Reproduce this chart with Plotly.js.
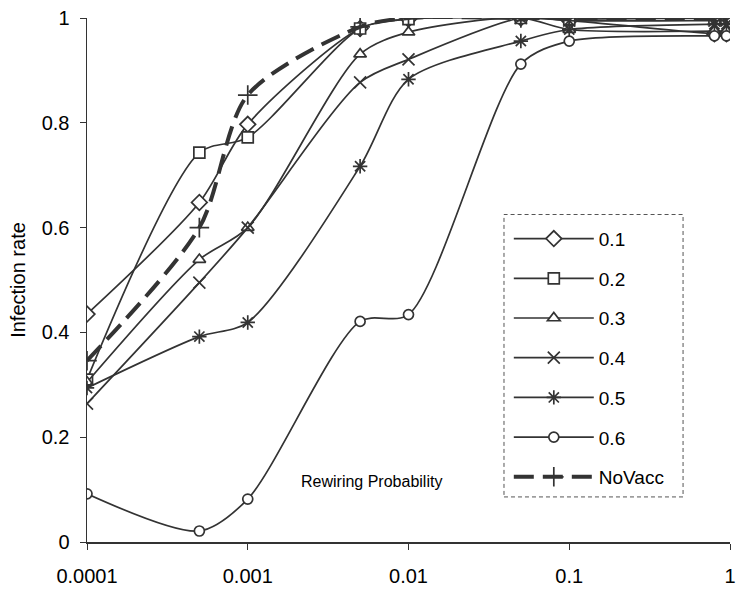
<!DOCTYPE html>
<html>
<head>
<meta charset="utf-8">
<script src="https://cdn.plot.ly/plotly-3.0.1.min.js"></script>
<style>html,body{margin:0;padding:0;background:#fff;}#chart{width:736px;height:591px;}</style>
</head>
<body>
<div id="chart"></div>
<script>
const rewiring = [0.0001, 0.0005, 0.001, 0.005, 0.01, 0.05, 0.1, 0.8, 0.95];
const seriesNames = ["0.1", "0.2", "0.3", "0.4", "0.5", "0.6", "NoVacc"];
const v01 = [0.435, 0.648, 0.797, 0.980, 0.998, 1.000, 0.995, 0.970, 0.970];
const v02 = [0.310, 0.743, 0.772, 0.980, 0.998, 1.000, 0.998, 1.000, 1.000];
const v03 = [0.305, 0.539, 0.600, 0.931, 0.973, 1.000, 0.978, 0.975, 0.975];
const v04 = [0.264, 0.495, 0.600, 0.877, 0.921, 1.000, 0.995, 0.995, 0.995];
const v05 = [0.294, 0.392, 0.419, 0.717, 0.883, 0.956, 0.978, 0.988, 0.988];
const v06 = [0.092, 0.021, 0.082, 0.421, 0.434, 0.912, 0.956, 0.966, 0.966];
const vNo = [0.346, 0.600, 0.853, 0.983, 1.000, 1.000, 1.000, 1.000, 1.000];
const yTicks = [0, 0.2, 0.4, 0.6, 0.8, 1];
const yTickText = ["0", "0.2", "0.4", "0.6", "0.8", "1"];
const xTicks = [0.0001, 0.001, 0.01, 0.1, 1];
const xTickText = ["0.0001", "0.001", "0.01", "0.1", "1"];

const ink = "#333333";
const symbols = ["diamond", "square", "triangle-up", "x-thin", "asterisk", "circle", "cross-thin"];
const sizes = [12, 11, 11, 12, 12, 10, 14];
const allVals = [v01, v02, v03, v04, v05, v06, vNo];

const traces = allVals.map((vals, i) => {
  const isNo = i === 6;
  return {
    x: rewiring, y: vals, name: seriesNames[i], type: "scatter", mode: "lines+markers",
    line: {shape: "spline", smoothing: 0.8, color: ink, width: isNo ? 4 : 1.7, dash: isNo ? "20px,9px" : "solid"},
    marker: {symbol: symbols[i], size: sizes[i], color: "#ffffff", line: {color: ink, width: 1.7}},
    legendgroup: "g" + i
  };
});

const layout = {
  width: 736, height: 591,
  margin: {l: 87, r: 6, t: 18, b: 49},
  paper_bgcolor: "#ffffff", plot_bgcolor: "#ffffff",
  font: {family: "Liberation Sans, Arial, sans-serif", size: 19, color: "#000"},
  showlegend: true,
  legend: {x: 0.656, y: 0.615, xanchor: "left", yanchor: "top", bgcolor: "rgba(0,0,0,0)",
           borderwidth: 0, font: {size: 19}, tracegroupgap: 12, itemwidth: 80},
  xaxis: {type: "log", range: [-4, 0], tickvals: xTicks, ticktext: xTickText,
          showgrid: false, zeroline: false, showline: true, linecolor: ink, linewidth: 1.5,
          ticks: "outside", ticklen: 6, tickcolor: ink, tickfont: {size: 20},
          ticklabelstandoff: 9, ticklabeloverflow: "allow"},
  yaxis: {range: [0, 1], tickvals: yTicks, ticktext: yTickText,
          showgrid: false, zeroline: false, showline: true, linecolor: ink, linewidth: 1.5,
          ticks: "outside", ticklen: 6, tickcolor: ink, tickfont: {size: 20},
          ticklabelstandoff: 6, ticklabeloverflow: "allow",
          title: {text: "Infection rate", font: {size: 20}, standoff: 10}},
  shapes: [{type: "rect", xref: "paper", yref: "paper", x0: 0.6485, x1: 0.927, y0: 0.086, y1: 0.625,
            line: {color: "#555", width: 1, dash: "4px,3px"}}],
  annotations: [{text: "Rewiring Probability", xref: "paper", yref: "paper", x: 0.443, y: 0.096,
                 showarrow: false, font: {size: 16}}]
};

Plotly.newPlot("chart", traces, layout, {displayModeBar: false, staticPlot: true});
</script>
</body>
</html>
